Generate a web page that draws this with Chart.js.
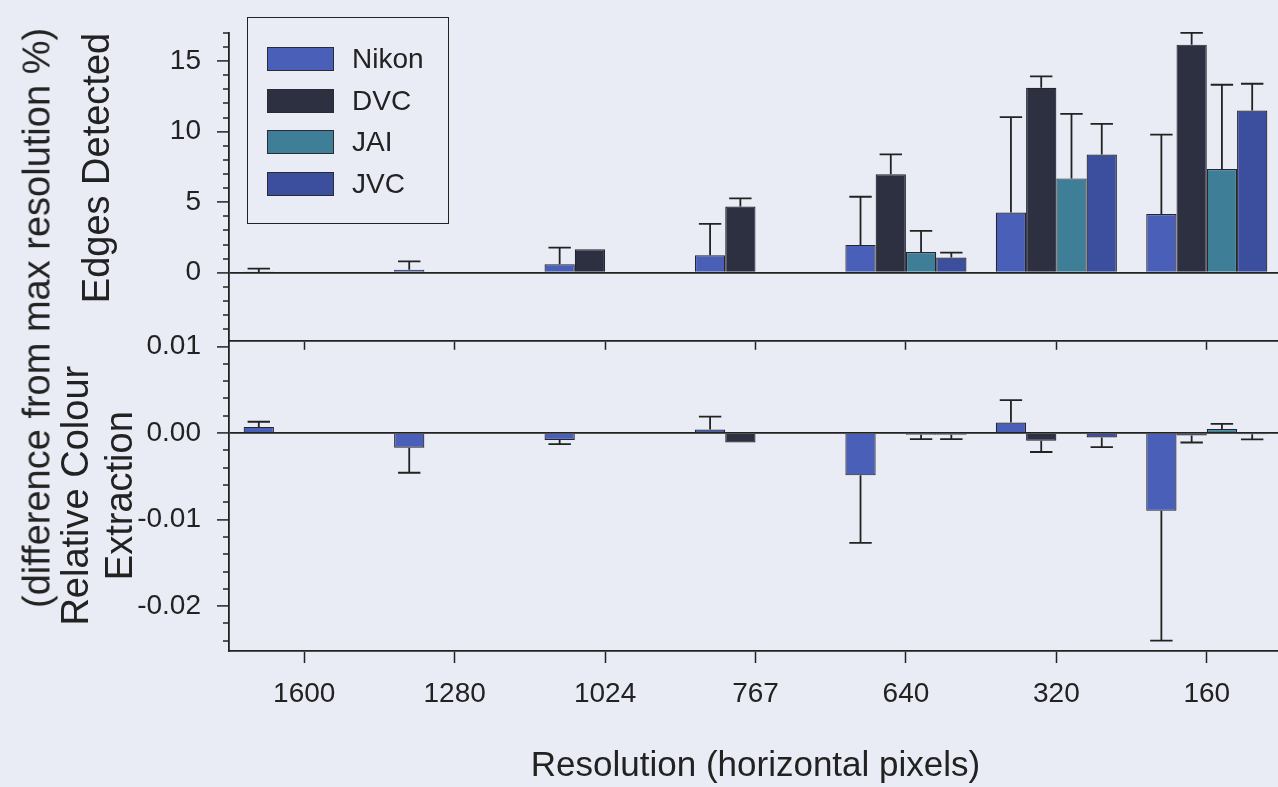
<!DOCTYPE html>
<html>
<head>
<meta charset="utf-8">
<title>Edges detected and colour extraction by resolution</title>
<script src="https://cdn.jsdelivr.net/npm/chart.js@4.4.0/dist/chart.umd.min.js"></script>
<style>
  html, body { margin: 0; padding: 0; background: #e9ecf4; overflow: hidden; }
  #wrap { position: absolute; left: 0; top: 0; width: 1300px; height: 787px; }
  #legend {
    position: absolute; left: 247px; top: 17px; width: 202px; height: 207px;
    box-sizing: border-box; border: 1.5px solid #222;
    font: 28px 'Liberation Sans', Arial, sans-serif; color: #222;
  }
  #legend .item { position: absolute; left: 19px; height: 24px; display: flex; align-items: center; white-space: nowrap; }
  #legend .sw { width: 67px; height: 24px; box-sizing: border-box; border: 1px solid #2b2b35; margin-right: 18px; }
  #outerTitle {
    position: absolute; left: 37px; top: 318px; white-space: nowrap;
    transform: translate(-50%, -50%) rotate(-90deg);
    font: 38px 'Liberation Sans', Arial, sans-serif; color: #222;
  }
</style>
</head>
<body>
<div id="wrap"><canvas id="chart"></canvas></div>
<div id="outerTitle">(difference from max resolution %)</div>
<div id="legend"></div>
<script>
// categories (horizontal resolution)
const categories = ["1600", "1280", "1024", "767", "640", "320", "160"];
const cameras = ["Nikon", "DVC", "JAI", "JVC"];

// top panel: edges detected
const nikonEdges = [0.05, 0.2, 0.6, 1.24, 1.97, 4.26, 4.15];
const nikonEdgesErr = [0.23, 0.6, 1.18, 2.22, 3.41, 6.76, 5.64];
const dvcEdges = [0, 0, 1.66, 4.69, 6.97, 13.1, 16.16];
const dvcEdgesErr = [0, 0, 0, 0.57, 1.42, 0.81, 0.83];
const jaiEdges = [0, 0, 0, 0, 1.47, 6.68, 7.35];
const jaiEdgesErr = [0, 0, 0, 0, 1.49, 4.58, 5.97];
const jvcEdges = [0, 0, 0, 0, 1.07, 8.37, 11.49];
const jvcEdgesErr = [0, 0, 0, 0, 0.35, 2.18, 1.9];

// bottom panel: relative colour extraction
const nikonColour = [0.0007, -0.0017, -0.0008, 0.0004, -0.0049, 0.0012, -0.009];
const nikonColourErr = [0.0006, 0.0029, 0.0005, 0.0015, 0.0078, 0.0026, 0.015];
const dvcColour = [0, 0, 0, -0.0011, 0, -0.0009, -0.0003];
const dvcColourErr = [0, 0, 0, 0, 0, 0.0013, 0.0008];
const jaiColour = [0, 0, 0, 0, -0.0002, 0, 0.00046];
const jaiColourErr = [0, 0, 0, 0, 0.0005, 0, 0.0006];
const jvcColour = [0, 0, 0, 0, -0.0002, -0.00053, -0.00015];
const jvcColourErr = [0, 0, 0, 0, 0.0005, 0.0011, 0.0006];

// axis ranges
const edgesMin = -4.8, edgesMax = 17;
const colourMin = -0.0252, colourMax = 0.0107;

const colours = ["#4a5fb8", "#2d3041", "#3e7f97", "#3b4f9e"];
const ink = "#222";

const edgeSets = [[nikonEdges, nikonEdgesErr], [dvcEdges, dvcEdgesErr], [jaiEdges, jaiEdgesErr], [jvcEdges, jvcEdgesErr]];
const colourSets = [[nikonColour, nikonColourErr], [dvcColour, dvcColourErr], [jaiColour, jaiColourErr], [jvcColour, jvcColourErr]];

function makeSets(sets, axisId) {
  return sets.map((s, i) => ({
    label: cameras[i],
    data: s[0],
    errors: s[1],
    yAxisID: axisId,
    stack: cameras[i],
    backgroundColor: colours[i],
    borderColor: "#25252e",
    borderWidth: 1.2,
    categoryPercentage: 0.805,
    barPercentage: 1
  }));
}

Chart.defaults.font.family = "'Liberation Sans', Arial, sans-serif";
Chart.defaults.color = ink;

// error bars drawn from the bar ends, in the direction of the bar
const errorBars = {
  id: "errorBars",
  afterDatasetsDraw(chart) {
    const ctx = chart.ctx;
    ctx.save();
    ctx.strokeStyle = ink;
    ctx.lineWidth = 1.8;
    chart.data.datasets.forEach((ds, i) => {
      const scale = chart.scales[ds.yAxisID];
      chart.getDatasetMeta(i).data.forEach((bar, j) => {
        const v = ds.data[j], e = ds.errors[j];
        if (!e) return;
        const dir = v < 0 ? -1 : 1;
        const yEnd = scale.getPixelForValue(v + dir * e);
        const half = bar.width * 0.37;
        ctx.beginPath();
        ctx.moveTo(bar.x, bar.y);
        ctx.lineTo(bar.x, yEnd);
        ctx.moveTo(bar.x - half, yEnd);
        ctx.lineTo(bar.x + half, yEnd);
        ctx.stroke();
      });
    });
    ctx.restore();
  }
};

const zeroLine = (c) => (c.tick && c.tick.value === 0 ? ink : "rgba(0,0,0,0)");

const chart = new Chart(document.getElementById("chart"), {
  type: "bar",
  data: {
    labels: categories,
    datasets: makeSets(edgeSets, "ye").concat(makeSets(colourSets, "yc"))
  },
  options: {
    responsive: true,
    maintainAspectRatio: false,
    animation: false,
    devicePixelRatio: 1,
    layout: { padding: { left: 0, top: 32, right: 18, bottom: 0 } },
    plugins: { legend: { display: false }, tooltip: { enabled: false } },
    scales: {
      x: {
        offset: true,
        grid: { offset: false, drawOnChartArea: false, tickLength: 12, tickWidth: 1.5, tickColor: ink },
        border: { color: ink, width: 1.8 },
        ticks: { font: { size: 28 }, padding: 14, maxRotation: 0 },
        title: { display: true, text: "Resolution (horizontal pixels)", font: { size: 35 }, padding: 0 },
        afterFit: (s) => { s.height = 136; }
      },
      xMid: {
        type: "category",
        labels: categories,
        offset: true,
        position: { yc: colourMax },
        grid: { offset: false, drawOnChartArea: false, tickLength: 8, tickWidth: 1.5, tickColor: ink },
        border: { color: ink, width: 1.8 },
        ticks: { display: false }
      },
      yc: {
        position: "left",
        stack: "panels",
        stackWeight: 311,
        stacked: false,
        min: colourMin,
        max: colourMax,
        grid: {
          color: zeroLine, lineWidth: 1.8, tickWidth: 1.5, tickColor: ink, tickLength: 12,
          tickBorderDash: (c) => (Math.round(c.tick.value * 1000) % 10 === 0 ? [] : [0, 6, 6, 100])
        },
        border: { color: ink, width: 1.8 },
        ticks: {
          stepSize: 0.002, includeBounds: false, autoSkip: false, padding: 16, font: { size: 28 },
          callback: (v) => (Math.round(v * 1000) % 10 === 0 ? v.toFixed(2) : "")
        },
        title: {
          display: true, text: ["Relative Colour", "Extraction"],
          font: { size: 38, lineHeight: 1.15 }, padding: { top: 56, bottom: 0 }
        },
        afterFit: (s) => { s.width = 229; }
      },
      ye: {
        position: "left",
        stack: "panels",
        stackWeight: 308,
        stacked: false,
        min: edgesMin,
        max: edgesMax,
        grid: {
          color: zeroLine, lineWidth: 1.8, tickWidth: 1.5, tickColor: ink, tickLength: 12,
          tickBorderDash: (c) => (c.tick.value % 5 === 0 ? [] : [0, 6, 6, 100])
        },
        border: { color: ink, width: 1.8 },
        ticks: {
          stepSize: 1, includeBounds: false, autoSkip: false, padding: 16, font: { size: 28 },
          callback: (v) => (v % 5 === 0 ? v : "")
        },
        title: {
          display: true, text: "Edges Detected", align: "end",
          font: { size: 38, lineHeight: 1.15 }, padding: { top: 77, bottom: 0 }
        },
        afterFit: (s) => { s.width = 229; }
      }
    }
  },
  plugins: [errorBars]
});

// legend from the chart's own datasets
const legend = document.getElementById("legend");
chart.data.datasets.slice(0, 4).forEach((ds, i) => {
  const item = document.createElement("div");
  item.className = "item";
  item.style.top = (29 + i * 41.5) + "px";
  const sw = document.createElement("span");
  sw.className = "sw";
  sw.style.background = ds.backgroundColor;
  item.appendChild(sw);
  item.appendChild(document.createTextNode(ds.label));
  legend.appendChild(item);
});
</script>
</body>
</html>
